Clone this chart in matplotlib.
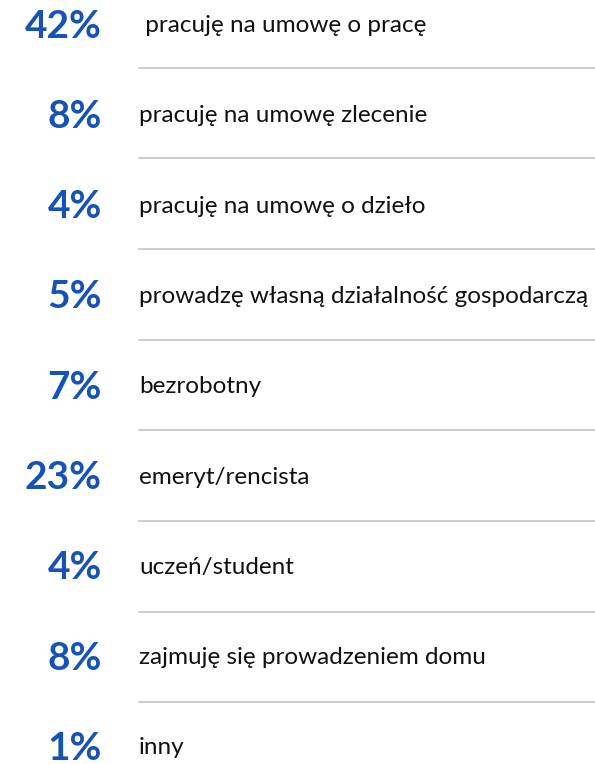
import matplotlib.pyplot as plt

percents = [42, 8, 4, 5, 7, 23, 4, 8, 1]
labels = [' pracuję na umowę o pracę', 'pracuję na umowę zlecenie', 'pracuję na umowę o dzieło',
          'prowadzę własną działalność gospodarczą', 'bezrobotny', 'emeryt/rencista',
          'uczeń/student', 'zajmuję się prowadzeniem domu', 'inny']

blue = '#1753b5'

fig = plt.figure(figsize=(5.95, 7.64), dpi=100)
ax = fig.add_axes([0, 0, 1, 1])
ax.set_xlim(0, 595)
ax.set_ylim(764, 0)
ax.axis('off')

top = 24
step = 90.3
for i, (p, lab) in enumerate(zip(percents, labels)):
    y = top + i * step
    ax.text(102, y + 2, f'{p}%', ha='right', va='center', fontsize=28, fontweight='bold',
            color=blue, family='Lato')
    ax.text(139, y + 1.5, lab, ha='left', va='center', fontsize=17.5, color='#111111', family='Lato')
    if i < len(percents) - 1:
        ax.plot([139, 595], [y + 43.5 + i * 0.4, y + 43.5 + i * 0.4], color='#c4c4c4', lw=1.2)

plt.savefig('out.png', dpi=100)
